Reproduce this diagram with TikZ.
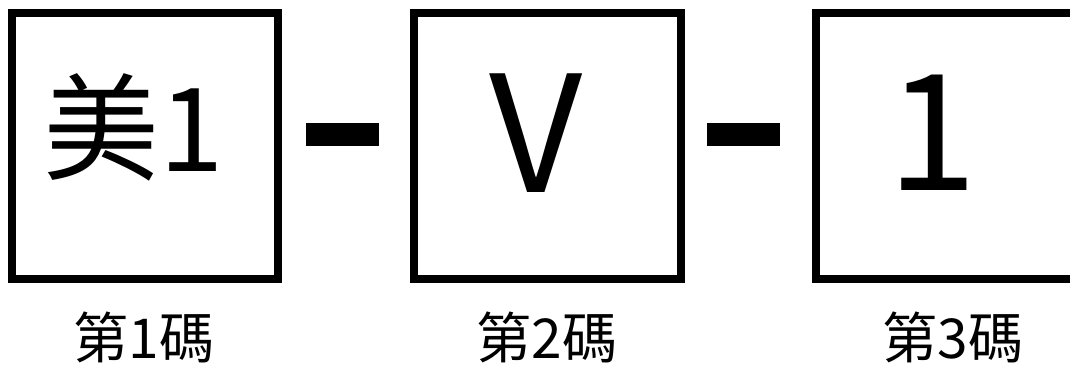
\documentclass[tikz,border=0pt]{standalone}
\usepackage{fontspec}
\newfontfamily\cjk{Noto Sans CJK TC}
\usetikzlibrary{positioning}

\begin{document}
\begin{tikzpicture}[x=1pt,y=1pt,
	codebox/.style={draw,line width=8pt,minimum size=266.5pt,inner sep=0pt},
	bigtext/.style={font=\cjk\fontsize{162}{162}\selectfont,inner sep=0pt},
	smalltext/.style={font=\cjk\fontsize{116}{116}\selectfont,inner sep=0pt},
	bar/.style={fill=black,minimum width=73pt,minimum height=23pt,inner sep=0pt},
	caption/.style={font=\cjk\fontsize{55}{55}\selectfont,inner sep=0pt}]
		\useasboundingbox (0,0) rectangle (1070,365);
		\node[codebox] (b1) at (144.75,219) {};
		\node[codebox] (b2) at (547.25,219) {};
		\node[codebox] (b3) at (949.25,219) {};
		\node[smalltext] (t1) at (134,238) {美1};
		\node[bigtext] (t2) at (536.5,231.5) {V};
		\node[bigtext] (t3) at (932.5,232.5) {1};
		\node[bar] (d1) at (342.5,230.5) {};
		\node[bar] (d2) at (743.5,230.5) {};
		\node[caption] (c1) at (144,28) {第1碼};
		\node[caption] (c2) at (547,28) {第2碼};
		\node[caption] (c3) at (953,28) {第3碼};
		\end{tikzpicture}
\end{document}
